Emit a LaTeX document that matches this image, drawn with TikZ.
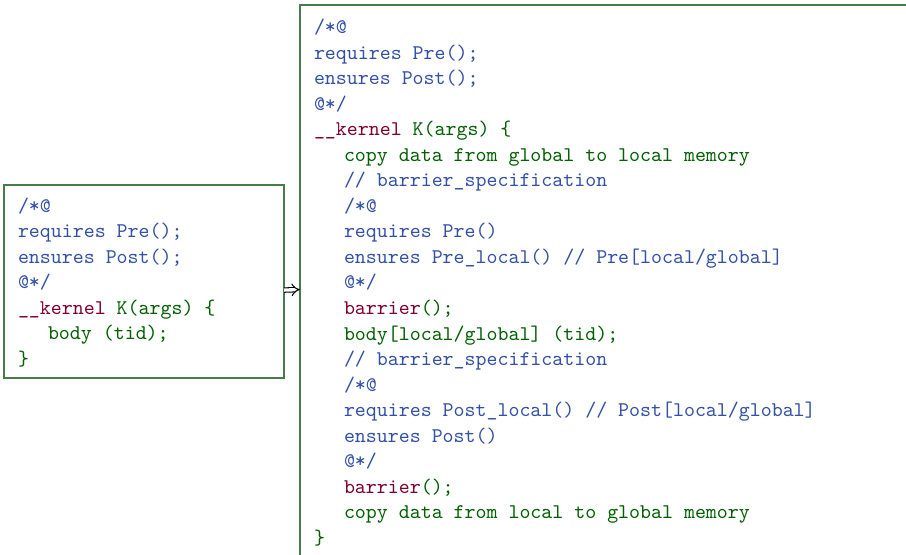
\documentclass[tikz,border=0pt]{standalone}
\usetikzlibrary{arrows.meta}
\definecolor{cblue}{RGB}{50,80,165}
\definecolor{cred}{RGB}{128,0,45}
\definecolor{cgreen}{RGB}{0,95,0}
\definecolor{cframe}{RGB}{70,125,70}
\tikzset{
  codebox/.style={draw=cframe, line width=0.7pt, anchor=north west, inner sep=0pt, outer sep=0pt},
  ln/.style={anchor=base west, inner sep=0pt, outer sep=0pt, font=\fontsize{10}{12}\selectfont\ttfamily},
  spec/.style={ln, text=cblue},
  kw/.style={ln, text=cred},
  cd/.style={ln, text=cgreen},
  implies/.style={double, double distance=1.6pt, line width=0.5pt, -{Implies}, draw=black}
}
\newcommand{\kwk}{\_\_kernel \textcolor{cgreen}{K(args) \{}}
\newcommand{\kwb}{barrier\textcolor{cgreen}{();}}
\begin{document}
\begin{tikzpicture}[x=0.4786pt,y=-0.4786pt]
\useasboundingbox (0,0) rectangle (906,555);
\clip (0,0) rectangle (906,555);
% boxes
\node[codebox, minimum width=134pt, minimum height=92.4pt] (L) at (4,185) {};
\node[codebox, minimum width=297pt, minimum height=264.2pt] (R) at (300,5) {};
% left box text
\node[spec] (l1) at (18,212.5) {/*@};
\node[spec] (l2) at (18,238.0) {requires Pre();};
\node[spec] (l3) at (18,263.5) {ensures Post();};
\node[spec] (l4) at (18,289.0) {@*/};
\node[kw]   (l5) at (18,314.5) {\kwk};
\node[cd]   (l6) at (48,340.0) {body (tid);};
\node[cd]   (l7) at (18,365.5) {\}};
% right box text
\node[spec] (r1)  at (314,33.5)  {/*@};
\node[spec] (r2)  at (314,59.05) {requires Pre();};
\node[spec] (r3)  at (314,84.6)  {ensures Post();};
\node[spec] (r4)  at (314,110.15) {@*/};
\node[kw]   (r5)  at (314,135.7) {\kwk};
\node[cd]   (r6)  at (344,161.25) {copy data from global to local memory};
\node[spec] (r7)  at (344,186.8) {// barrier\_specification};
\node[spec] (r8)  at (344,212.35) {/*@};
\node[spec] (r9)  at (344,237.9) {requires Pre()};
\node[spec] (r10) at (344,263.45) {ensures Pre\_local() // Pre[local/global]};
\node[spec] (r11) at (344,289.0) {@*/};
\node[kw]   (r12) at (344,314.55) {\kwb};
\node[cd]   (r13) at (344,340.1) {body[local/global] (tid);};
\node[spec] (r14) at (344,365.65) {// barrier\_specification};
\node[spec] (r15) at (344,391.2) {/*@};
\node[spec] (r16) at (344,416.75) {requires Post\_local() // Post[local/global]};
\node[spec] (r17) at (344,442.3) {ensures Post()};
\node[spec] (r18) at (344,467.85) {@*/};
\node[kw]   (r19) at (344,493.4) {\kwb};
\node[cd]   (r20) at (344,518.95) {copy data from local to global memory};
\node[cd]   (r21) at (314,544.5) {\}};
% arrow between the boxes
\draw[implies] ([yshift=-4.1pt]L.east) -- ([yshift=-4.1pt]R.west);
\end{tikzpicture}
\end{document}
